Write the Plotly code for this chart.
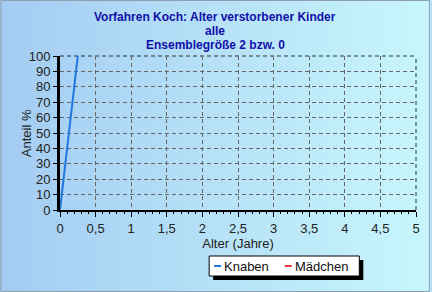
import plotly.graph_objects as go

# Data
knaben_x = [0, 0.25]
knaben_y = [0, 100]
maedchen_x = [None]
maedchen_y = [None]
x_ticks = [0, 0.5, 1, 1.5, 2, 2.5, 3, 3.5, 4, 4.5, 5]
x_labels = ["0", "0,5", "1", "1,5", "2", "2,5", "3", "3,5", "4", "4,5", "5"]
y_ticks = list(range(0, 101, 10))
title_lines = ["Vorfahren Koch: Alter verstorbener Kinder", "alle", "Ensemblegröße 2 bzw. 0"]
series_names = ["Knaben", "Mädchen"]
series_colors = ["#1f78e0", "#e03a3a"]

W, H = 432, 292
L, R, T, B = 60, 14, 56, 82
pw, ph = W - L - R, H - T - B

def px(xp):
    return (xp - L) / pw

def py(yp):
    return 1 - (yp - T) / ph

fig = go.Figure()
fig.add_trace(go.Scatter(x=knaben_x, y=knaben_y, mode="lines", name=series_names[0],
                         line=dict(color=series_colors[0], width=2), showlegend=False))
fig.add_trace(go.Scatter(x=maedchen_x, y=maedchen_y, mode="lines", name=series_names[1],
                         line=dict(color=series_colors[1], width=2), showlegend=False))

shapes = []
n = 60
c0 = (164, 204, 242)
c1 = (200, 246, 252)
for i in range(n):
    t = i / (n - 1)
    c = tuple(round(c0[k] + (c1[k] - c0[k]) * t) for k in range(3))
    shapes.append(dict(type="rect", xref="paper", yref="paper",
                       x0=px(W * i / n), x1=px(W * (i + 1) / n + 0.5),
                       y0=py(H), y1=py(0), line=dict(width=0),
                       fillcolor="rgb(%d,%d,%d)" % c, layer="below"))
shapes.append(dict(type="rect", xref="paper", yref="paper",
                   x0=px(0.5), x1=px(W - 0.5), y0=py(H - 0.5), y1=py(0.5),
                   line=dict(color="#8aa0b0", width=1), layer="below"))
shapes.append(dict(type="line", xref="paper", yref="paper", x0=0, x1=1, y0=1, y1=1,
                   line=dict(color="#333", width=1, dash="4px,3px"), layer="below"))
shapes.append(dict(type="line", xref="paper", yref="paper", x0=1, x1=1, y0=0, y1=1,
                   line=dict(color="#333", width=1, dash="4px,3px"), layer="below"))
# legend box with shadow
lx0, lx1, ly0, ly1 = 210, 361, 256, 276
shapes.append(dict(type="rect", xref="paper", yref="paper",
                   x0=px(lx0 + 4), x1=px(lx1 + 4), y0=py(ly1 + 4), y1=py(ly0 + 4),
                   line=dict(width=0), fillcolor="black", layer="above"))
shapes.append(dict(type="rect", xref="paper", yref="paper",
                   x0=px(lx0), x1=px(lx1), y0=py(ly1), y1=py(ly0),
                   line=dict(color="black", width=1), fillcolor="white", layer="above"))

annotations = []
for i, line in enumerate(title_lines):
    annotations.append(dict(text="<b>%s</b>" % line, xref="paper", yref="paper",
                            x=px(216), y=py(17 + 14 * i), xanchor="center", yanchor="middle",
                            showarrow=False,
                            font=dict(family="Arial, Liberation Sans", size=12, color="#1010a8")))
annotations.append(dict(text="Anteil %", xref="paper", yref="paper", x=px(26), y=py(133),
                        textangle=-90, xanchor="center", yanchor="middle", showarrow=False,
                        font=dict(size=13, color="#222")))
# manual legend entries
leg_x = [215, 286]
for name, col, x0 in zip(series_names, series_colors, leg_x):
    shapes.append(dict(type="line", xref="paper", yref="paper",
                       x0=px(x0), x1=px(x0 + 7), y0=py(266), y1=py(266),
                       line=dict(color=col, width=2), layer="above"))
    annotations.append(dict(text=name, xref="paper", yref="paper", x=px(x0 + 8), y=py(266),
                            xanchor="left", yanchor="middle", showarrow=False,
                            font=dict(size=13, color="#111")))

fig.update_layout(
    width=W, height=H,
    margin=dict(l=L, r=R, t=T, b=B),
    paper_bgcolor="rgb(180,220,245)",
    plot_bgcolor="rgba(0,0,0,0)",
    font=dict(family="Arial, Liberation Sans", size=13, color="#222"),
    xaxis=dict(range=[0, 5], tickvals=x_ticks, ticktext=x_labels,
               showgrid=True, gridcolor="#666", griddash="4px,3px", gridwidth=1,
               showline=True, linecolor="black", linewidth=2,
               ticks="outside", ticklen=5, tickcolor="black", tickwidth=1,
               minor=dict(dtick=0.1, ticks="outside", ticklen=2, tickcolor="black", showgrid=False),
               zeroline=False,
               title=dict(text="Alter (Jahre)", standoff=2, font=dict(size=13)),
               tickfont=dict(size=13)),
    yaxis=dict(range=[0, 100], tickvals=y_ticks,
               showgrid=True, gridcolor="#666", griddash="4px,3px", gridwidth=1,
               showline=True, linecolor="black", linewidth=3,
               ticks="outside", ticklen=4, tickcolor="black",
               zeroline=False,
               tickfont=dict(size=13)),
    showlegend=False,
    shapes=shapes,
    annotations=annotations,
)

fig.write_html("out.html")
